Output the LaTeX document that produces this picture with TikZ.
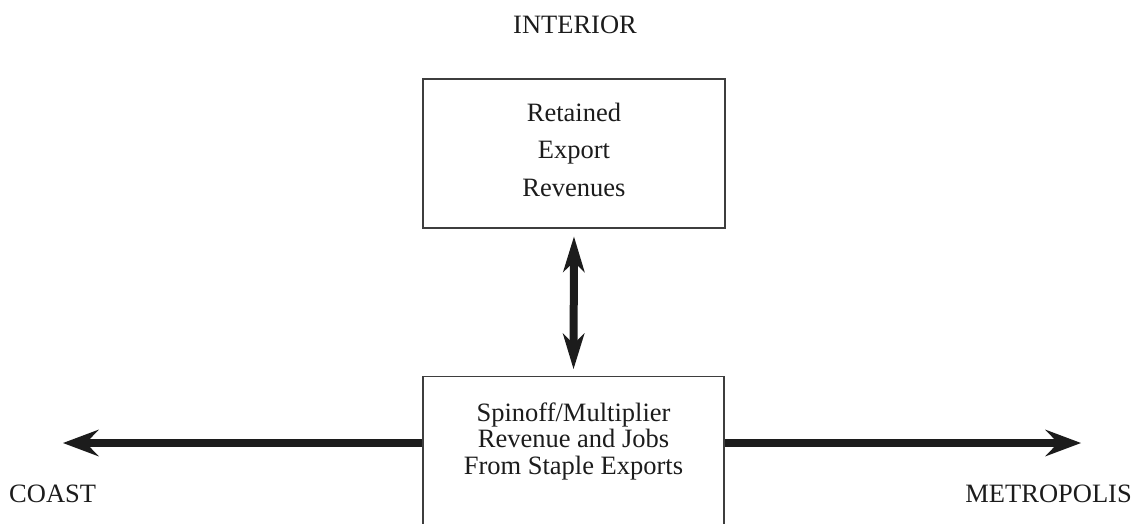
\documentclass[tikz,border=0pt]{standalone}
\usepackage{fontspec}
\setmainfont{Liberation Serif}
\usetikzlibrary{arrows.meta}
\definecolor{ink}{HTML}{1C1C1C}
\tikzset{
  lbl/.style={inner sep=0pt, text=ink, font=\fontsize{26.5}{30}\selectfont},
  boxnode/.style={draw=ink!85, line width=1.3pt, inner sep=0pt},
  harr/.style={draw=ink, line width=8pt,
    -{Stealth[length=36pt,width=27pt,inset=13pt,line width=0pt]}},
  varr/.style={draw=ink, line width=8pt,
    {Stealth[length=36pt,width=22pt,inset=11pt,line width=0pt]}-{Stealth[length=36pt,width=22pt,inset=11pt,line width=0pt]}}
}
\begin{document}
\begin{tikzpicture}[x=1pt,y=-1pt]
\clip (0,0) rectangle (1142,523);
\fill[white] (0,0) rectangle (1142,523);
\node[lbl, anchor=base] (interior) at (575,33) {INTERIOR};
\node[boxnode, text=ink, align=center, minimum width=302pt, minimum height=149pt,
      text depth=8.1pt, font=\fontsize{26.5}{37.5}\selectfont] (ret) at (574,153.5)
      {Retained\\Export\\Revenues};
\node[boxnode, minimum width=301pt, minimum height=220pt, anchor=north] (spin) at (573.5,376) {};
\node[lbl, align=center, font=\fontsize{26.5}{26.7}\selectfont] (spintext) at (573.5,441.3)
      {Spinoff/Multiplier\\Revenue and Jobs\\From Staple Exports};
\node[lbl, anchor=base west] (coast) at (9,502) {COAST};
\node[lbl, anchor=base east] (metro) at (1132,502) {METROPOLIS};
\coordinate (coastend) at (63,443);
\coordinate (metroend) at (1081,443);
\draw[harr] (spin.west |- coastend) -- (coastend);
\draw[harr] (spin.east |- metroend) -- (metroend);
\draw[varr, shorten <=8pt, shorten >=7pt] (ret.south) -- (spin.north);
\end{tikzpicture}
\end{document}
